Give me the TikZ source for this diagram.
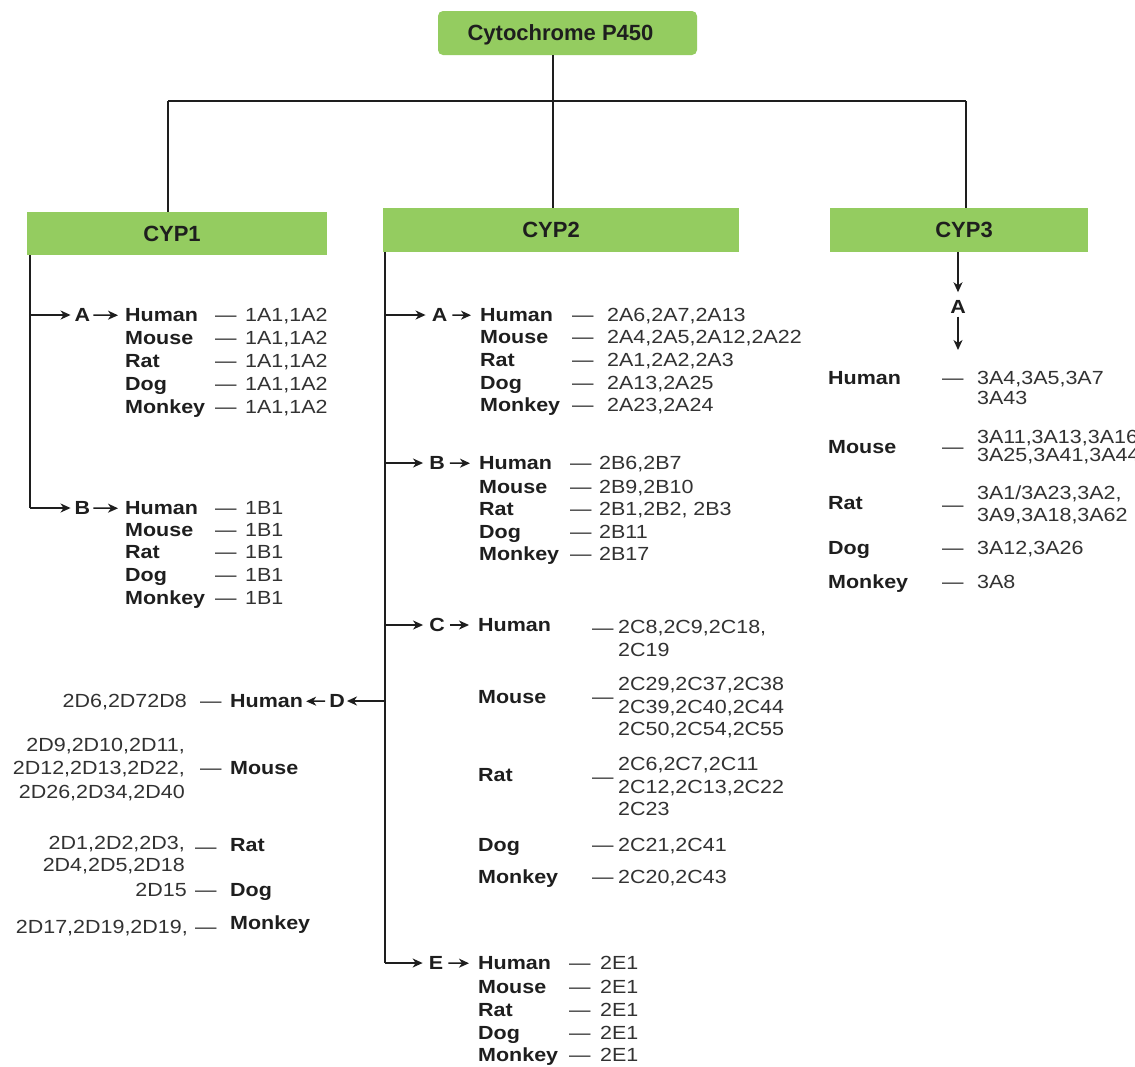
\documentclass[tikz,border=0pt]{standalone}
\usepackage{fontspec}
\setmainfont{Liberation Sans}
\newfontfamily\bodyf{Liberation Sans}[FakeStretch=1.13]
\usetikzlibrary{arrows.meta}
\definecolor{boxgreen}{RGB}{148,204,96}
\definecolor{ink}{RGB}{30,30,30}
\definecolor{numc}{RGB}{50,50,50}
\tikzset{
  box/.style={fill=boxgreen, draw=none, minimum width=#1, minimum height=44pt,
    inner sep=0pt, text depth=0pt, font=\fontsize{22}{26}\selectfont\bfseries, text=ink},
  sp/.style={inner sep=0pt, font=\bodyf\fontsize{19}{23}\selectfont\bfseries, text=ink},
  nm/.style={inner sep=0pt, font=\bodyf\fontsize{19}{23}\selectfont, text=numc},
  lab/.style={sp},
  conn/.style={draw=ink, line width=1.5pt},
  arr/.style={conn, -{Stealth[length=10pt,width=9pt,inset=3pt]}},
}
\newcommand\spL[4]{\node[sp,anchor=base west] (#1) at (#2,#3+6.8) {#4};}
\newcommand\dashL[3]{\node[nm,anchor=base west] (#1) at (#2,#3+6.8) {—};}
\newcommand\numL[4]{\node[nm,anchor=base west] (#1) at (#2,#3+6.8) {#4};}
\newcommand\numR[4]{\node[nm,anchor=base east] (#1) at (#2,#3+6.8) {#4};}
\newcommand\spRow[7]{\spL{#1}{#3}{#2}{#6}\dashL{#1d}{#4}{#2}\numL{#1n}{#5}{#2}{#7}}
\begin{document}
\begin{tikzpicture}[x=1pt,y=-1pt]
\fill[white] (0,0) rectangle (1135,1066);
\useasboundingbox (0,0) rectangle (1135,1066);

% ---------- boxes ----------
\node[box=259pt, rounded corners=5pt] (p450) at (567.5,33) {\hspace*{-14pt}Cytochrome P450};
\node[box=300pt, minimum height=43pt] (cyp1) at (177,233.5) {\hspace*{-10pt}CYP1};
\node[box=356pt] (cyp2) at (561,230) {\hspace*{-20pt}CYP2};
\node[box=258pt] (cyp3) at (959,230) {\hspace*{10pt}CYP3};

% ---------- top connectors ----------
\coordinate (hub) at (553,101);
\coordinate (j1) at (168,101);
\coordinate (j3) at (966,101);
\draw[conn] (p450.south -| hub) -- (hub);
\draw[conn] (j1) -- (j3);
\draw[conn] (j1) -- (j1 |- cyp1.north);
\draw[conn] (hub) -- (hub |- cyp2.north);
\draw[conn] (j3) -- (j3 |- cyp3.north);

% ---------- CYP1 ----------
\coordinate (v1) at (30,508);
\draw[conn] (cyp1.south -| v1) -- (v1);
\node[lab] (A1) at (82.5,315) {A};
\node[lab] (B1) at (82.5,508) {B};
\spRow{a1h}{315}{125}{215}{245}{Human}{1A1,1A2}
\spRow{a1m}{338}{125}{215}{245}{Mouse}{1A1,1A2}
\spRow{a1r}{361}{125}{215}{245}{Rat}{1A1,1A2}
\spRow{a1g}{384}{125}{215}{245}{Dog}{1A1,1A2}
\spRow{a1k}{407}{125}{215}{245}{Monkey}{1A1,1A2}
\spRow{b1h}{508}{125}{215}{245}{Human}{1B1}
\spRow{b1m}{530}{125}{215}{245}{Mouse}{1B1}
\spRow{b1r}{552}{125}{215}{245}{Rat}{1B1}
\spRow{b1g}{575}{125}{215}{245}{Dog}{1B1}
\spRow{b1k}{598}{125}{215}{245}{Monkey}{1B1}
\draw[arr, shorten >=4pt] (v1 |- A1) -- (A1.west);
\draw[arr, shorten >=4pt] (v1) -- (B1.west);
\draw[arr, shorten <=3pt, shorten >=7pt] (A1.east) -- (a1h.west);
\draw[arr, shorten <=3pt, shorten >=7pt] (B1.east) -- (b1h.west);

% ---------- CYP2 ----------
\coordinate (v2) at (385,963);
\draw[conn] (cyp2.south -| v2) -- (v2);
\node[lab] (A2) at (439.5,315) {A};
\node[lab] (B2) at (437,463) {B};
\node[lab] (C2) at (437,625) {C};
\node[lab] (D2) at (337,701) {D};
\node[lab] (E2) at (436,963) {E};

\spRow{a2h}{315}{480}{572}{607}{Human}{2A6,2A7,2A13}
\spRow{a2m}{337}{480}{572}{607}{Mouse}{2A4,2A5,2A12,2A22}
\spRow{a2r}{360}{480}{572}{607}{Rat}{2A1,2A2,2A3}
\spRow{a2g}{383}{480}{572}{607}{Dog}{2A13,2A25}
\spRow{a2k}{405}{480}{572}{607}{Monkey}{2A23,2A24}

\spRow{b2h}{463}{479}{570}{599}{Human}{2B6,2B7}
\spRow{b2m}{487}{479}{570}{599}{Mouse}{2B9,2B10}
\spRow{b2r}{509}{479}{570}{599}{Rat}{2B1,2B2, 2B3}
\spRow{b2g}{532}{479}{570}{599}{Dog}{2B11}
\spRow{b2k}{554}{479}{570}{599}{Monkey}{2B17}

\spL{c2h}{478}{625}{Human}
\dashL{c2hd}{592}{628}
\numL{c2hn1}{618}{627}{2C8,2C9,2C18,}
\numL{c2hn2}{618}{650}{2C19}
\spL{c2m}{478}{697}{Mouse}
\dashL{c2md}{592}{697}
\numL{c2mn1}{618}{684}{2C29,2C37,2C38}
\numL{c2mn2}{618}{707}{2C39,2C40,2C44}
\numL{c2mn3}{618}{729}{2C50,2C54,2C55}
\spL{c2r}{478}{775}{Rat}
\dashL{c2rd}{592}{777}
\numL{c2rn1}{618}{764}{2C6,2C7,2C11}
\numL{c2rn2}{618}{787}{2C12,2C13,2C22}
\numL{c2rn3}{618}{809}{2C23}
\spRow{c2g}{845}{478}{592}{618}{Dog}{2C21,2C41}
\spRow{c2k}{877}{478}{592}{618}{Monkey}{2C20,2C43}

\spRow{e2h}{963}{478}{569}{600}{Human}{2E1}
\spRow{e2m}{987}{478}{569}{600}{Mouse}{2E1}
\spRow{e2r}{1010}{478}{569}{600}{Rat}{2E1}
\spRow{e2g}{1033}{478}{569}{600}{Dog}{2E1}
\spRow{e2k}{1055}{478}{569}{600}{Monkey}{2E1}

% D (leftwards)
\spL{d2h}{230}{701}{Human}
\dashL{d2hd}{200}{701}
\numR{d2hn}{187}{701}{2D6,2D72D8}
\spL{d2m}{230}{768}{Mouse}
\dashL{d2md}{200}{768}
\numR{d2mn1}{185}{745}{2D9,2D10,2D11,}
\numR{d2mn2}{185}{768}{2D12,2D13,2D22,}
\numR{d2mn3}{185}{792}{2D26,2D34,2D40}
\spL{d2r}{230}{845}{Rat}
\dashL{d2rd}{195}{847}
\numR{d2rn1}{185}{843}{2D1,2D2,2D3,}
\numR{d2rn2}{185}{865}{2D4,2D5,2D18}
\spL{d2g}{230}{890}{Dog}
\dashL{d2gd}{195}{890}
\numR{d2gn}{187}{890}{2D15}
\spL{d2k}{230}{923}{Monkey}
\dashL{d2kd}{195}{927}
\numR{d2kn}{188}{927}{2D17,2D19,2D19,}

\draw[arr, shorten >=6pt] (v2 |- A2) -- (A2.west);
\draw[arr, shorten >=6pt] (v2 |- B2) -- (B2.west);
\draw[arr, shorten >=6pt] (v2 |- C2) -- (C2.west);
\draw[arr, shorten >=6pt] (v2) -- (E2.west);
\draw[arr, shorten >=2pt] (v2 |- D2) -- (D2.east);
\draw[arr, shorten <=5pt, shorten >=9pt] (A2.east) -- (a2h.west);
\draw[arr, shorten <=5pt, shorten >=9pt] (B2.east) -- (b2h.west);
\draw[arr, shorten <=5pt, shorten >=9pt] (C2.east) -- (C2.east -| c2h.west);
\draw[arr, shorten <=5pt, shorten >=9pt] (E2.east) -- (e2h.west);
\draw[arr, shorten <=4pt, shorten >=3pt] (D2.west) -- (d2h.east);

% ---------- CYP3 ----------
\node[lab] (A3) at (958,307) {A};
\coordinate (a3e) at (958,350);
\draw[arr, shorten >=8pt] (cyp3.south -| A3) -- (A3.north);
\draw[arr, shorten <=3pt] (A3.south) -- (a3e);

\spL{c3h}{828}{378}{Human}
\dashL{c3hd}{942}{378}
\numL{c3hn1}{977}{378}{3A4,3A5,3A7}
\numL{c3hn2}{977}{398}{3A43}
\spL{c3m}{828}{447}{Mouse}
\dashL{c3md}{942}{447}
\numL{c3mn1}{977}{437}{3A11,3A13,3A16}
\numL{c3mn2}{977}{455}{3A25,3A41,3A44}
\spL{c3r}{828}{503}{Rat}
\dashL{c3rd}{942}{505}
\numL{c3rn1}{977}{493}{3A1/3A23,3A2,}
\numL{c3rn2}{977}{515}{3A9,3A18,3A62}
\spRow{c3g}{548}{828}{942}{977}{Dog}{3A12,3A26}
\spRow{c3k}{582}{828}{942}{977}{Monkey}{3A8}
\end{tikzpicture}
\end{document}
